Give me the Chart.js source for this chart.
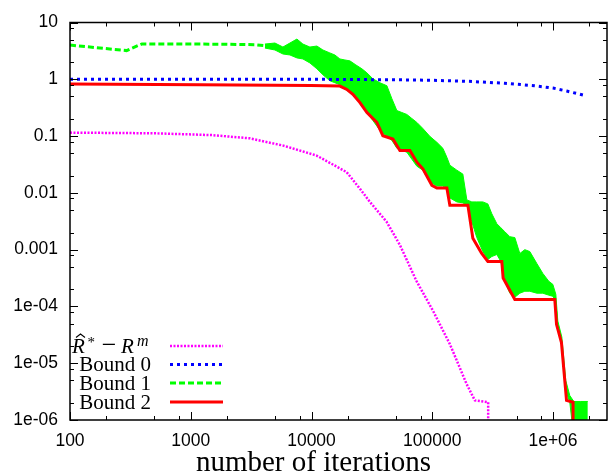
<!DOCTYPE html>
<html><head><meta charset="utf-8">
<script src="https://cdn.jsdelivr.net/npm/chart.js@4.4.1/dist/chart.umd.min.js"></script>
<style>html,body{margin:0;padding:0;background:#fff;overflow:hidden}</style>
</head><body>
<canvas id="c" width="608" height="475"></canvas>
<script>
// ---- tick labels ----
const xTickValues = [100, 1000, 10000, 100000, 1000000];
const xTickLabels = ['100', '1000', '10000', '100000', '1e+06'];
const yTickValues = [1e-6, 1e-5, 1e-4, 1e-3, 0.01, 0.1, 1, 10];
const yTickLabels = ['1e-06', '1e-05', '1e-04', '0.001', '0.01', '0.1', '1', '10'];
const minorMultiples = [2, 5, 8];

// ---- series: R^* - R^m (magenta) ----
const rDiffX = [100, 500, 1500, 3090, 5840, 11010, 19530, 25200, 30440, 41850, 53950, 74200, 101700, 139900, 192300, 225300, 290500, 290500];
const rDiffY = [0.115, 0.112, 0.104, 0.0912, 0.0679, 0.0454, 0.0232, 0.0118, 0.00693, 0.0031, 0.00121, 0.000277, 8.3e-5, 2.17e-5, 4.33e-6, 2.21e-6, 2.06e-6, 5e-7];

// ---- Bound 0 (blue) ----
const bound0X = [100, 1000, 10000, 50000, 100000, 200000, 400000, 700000, 1000000, 1300000, 1900000];
const bound0Y = [1.0, 1.0, 1.0, 0.98, 0.96, 0.92, 0.85, 0.77, 0.70, 0.62, 0.51];

// ---- Bound 1 (green): dashed start, then noisy band (upper / lower envelope) ----
const bound1X = [100, 294, 394, 2000, 3500, 4113];
const bound1Y = [4.0, 3.2, 4.2, 4.15, 4.05, 3.9];
const bound1BandX = [4113, 4977, 5798, 6627, 7572, 8490, 9700, 11085, 12430, 14200, 15620, 17180, 18900, 20790, 23310, 26140, 28740, 32240, 36830, 42100, 46300, 50930, 56020, 61620, 67780, 74560, 83600, 95500, 109200, 122400, 132100, 139900, 159800, 179200, 193400, 212700, 233900, 262400, 288600, 311500, 342600, 369800, 399000, 438900, 482900, 531100, 584200, 642700, 734300, 823300, 923100, 996200, 1055000, 1096000, 1183000, 1276000, 1377000, 1487000, 1699000, 1942000];
const bound1Upper = [4.17, 4.35, 3.70, 4.35, 5.11, 4.17, 3.70, 3.85, 3.28, 2.91, 2.68, 2.28, 2.19, 2.11, 1.79, 1.53, 1.30, 1.02, 0.869, 0.770, 0.456, 0.281, 0.260, 0.240, 0.204, 0.174, 0.136, 0.0989, 0.0776, 0.0610, 0.0424, 0.0307, 0.0251, 0.0214, 0.00751, 0.00693, 0.00693, 0.00693, 0.00639, 0.00428, 0.00286, 0.00243, 0.00207, 0.00169, 0.00163, 0.000855, 0.00100, 0.000926, 0.000571, 0.000382, 0.000277, 0.000245, 0.000164, 5.53e-5, 2.90e-5, 4.94e-6, 2.70e-6, 2.12e-6, 2.12e-6, 2.12e-6];
const bound1Lower = [3.55, 3.28, 2.79, 2.68, 2.38, 2.28, 1.94, 1.53, 1.20, 0.941, 0.869, 0.801, 0.682, 0.581, 0.515, 0.331, 0.260, 0.188, 0.126, 0.0989, 0.0841, 0.0610, 0.0562, 0.0519, 0.0391, 0.0295, 0.0251, 0.0155, 0.0132, 0.0132, 0.0122, 0.00814, 0.00693, 0.00666, 0.00614, 0.00310, 0.00163, 0.000926, 0.000671, 0.000757, 0.000821, 0.000619, 0.000277, 0.000171, 0.000145, 0.000171, 0.000185, 0.000185, 0.000171, 0.000171, 0.000158, 0.000151, 0.000124, 4.35e-5, 2.11e-5, 3.30e-6, 2.04e-6, 5e-7, 5e-7, 5e-7];

// ---- Bound 2 (red) ----
const bound2X = [100, 1191, 9890, 17180, 19620, 22020, 25180, 28780, 34760, 38990, 47210, 53950, 65300, 74600, 83600, 99300, 109200, 132100, 139900, 197300, 216900, 255900, 288600, 376700, 386300, 482900, 1035000, 1069000, 1175000, 1294000, 1466000, 1466000];
const bound2Y = [0.824, 0.801, 0.779, 0.760, 0.663, 0.542, 0.388, 0.260, 0.174, 0.1016, 0.0887, 0.0556, 0.0556, 0.0347, 0.0265, 0.0136, 0.0122, 0.0122, 0.00607, 0.00607, 0.00158, 0.000865, 0.000619, 0.000619, 0.000316, 0.000132, 0.000132, 4.85e-5, 2.31e-5, 2.21e-6, 2.06e-6, 5e-7];

const legendLabels = ['Bound 0', 'Bound 1', 'Bound 2'];
const xTitle = 'number of iterations';

const zip = (xs, ys) => xs.map((x, i) => ({x: x, y: ys[i]}));
function allTicks(decades, max) {
  const out = [];
  decades.forEach(d => { out.push(d); minorMultiples.forEach(m => { if (m * d <= max) out.push(m * d); }); });
  return out;
}
const X_MIN = 100, X_MAX = 2.8e6, Y_MIN = 1e-6, Y_MAX = 10;

const serif = "'Liberation Serif', 'Times New Roman', serif";
const sans = "'Liberation Sans', Arial, sans-serif";

const framePlugin = {
  id: 'frame',
  afterDraw(chart) {
    const {ctx, chartArea: a, scales: {x, y}} = chart;
    ctx.save();
    ctx.strokeStyle = '#000';
    ctx.lineWidth = 1;
    ctx.beginPath();
    x.ticks.forEach(t => {
      const px = Math.round(x.getPixelForValue(t.value)) + 0.5;
      const len = xTickValues.includes(t.value) ? 8 : 4;
      ctx.moveTo(px, a.bottom); ctx.lineTo(px, a.bottom - len);
      ctx.moveTo(px, a.top); ctx.lineTo(px, a.top + len);
    });
    y.ticks.forEach(t => {
      const py = Math.round(y.getPixelForValue(t.value)) + 0.5;
      const len = yTickValues.includes(t.value) ? 8 : 4;
      ctx.moveTo(a.left, py); ctx.lineTo(a.left + len, py);
      ctx.moveTo(a.right, py); ctx.lineTo(a.right - len, py);
    });
    ctx.stroke();
    ctx.lineWidth = 1.5;
    ctx.strokeRect(a.left, a.top, a.right - a.left, a.bottom - a.top);

    // x axis title
    ctx.fillStyle = '#000';
    ctx.font = '29px ' + serif;
    ctx.textAlign = 'center';
    ctx.textBaseline = 'alphabetic';
    ctx.fillText(xTitle, 313.5, 471);

    // legend
    const rightX = 151, s0 = 170, s1 = 223;
    const lineYs = [346, 364.5, 383, 402];
    const styles = [
      {c: '#ff00ff', w: 2.5, d: [2, 1.5]},
      {c: '#0000ff', w: 3, d: [3, 4]},
      {c: '#00ff00', w: 3, d: [6, 3]},
      {c: '#ff0000', w: 3, d: []}
    ];
    styles.forEach((s, i) => {
      ctx.beginPath();
      ctx.strokeStyle = s.c; ctx.lineWidth = s.w; ctx.setLineDash(s.d);
      ctx.moveTo(s0, lineYs[i]); ctx.lineTo(s1, lineYs[i]);
      ctx.stroke();
    });
    ctx.setLineDash([]);
    ctx.textAlign = 'right';
    ctx.font = '21px ' + serif;
    legendLabels.forEach((t, i) => ctx.fillText(t, rightX, lineYs[i + 1] + 6.5));
    // first label: R-hat^* - R^m
    const base = lineYs[0] + 6.5;
    ctx.textAlign = 'left';
    ctx.font = 'italic 21px ' + serif;
    ctx.fillText('R', 72, base);
    ctx.beginPath();
    ctx.strokeStyle = '#000'; ctx.lineWidth = 1.1;
    ctx.moveTo(76, base - 15); ctx.lineTo(80.5, base - 18.5); ctx.lineTo(85, base - 15);
    ctx.stroke();
    ctx.font = '15px ' + serif;
    ctx.fillText('*', 87.5, base - 6);
    ctx.font = '26px ' + serif;
    ctx.textAlign = 'center';
    ctx.fillText('\u2212', 109, base + 0.5);
    ctx.textAlign = 'left';
    ctx.font = 'italic 21px ' + serif;
    ctx.fillText('R', 121, base);
    ctx.font = 'italic 16px ' + serif;
    ctx.fillText('m', 137, base - 7);
    ctx.restore();
  }
};

const common = {pointRadius: 0, pointHoverRadius: 0, tension: 0, fill: false};

new Chart(document.getElementById('c'), {
  type: 'line',
  data: {
    datasets: [
      Object.assign({}, common, {label: 'Bound 2', data: zip(bound2X, bound2Y), borderColor: '#ff0000', borderWidth: 3, order: 0}),
      Object.assign({}, common, {label: 'Bound 0', data: zip(bound0X, bound0Y), borderColor: '#0000ff', borderWidth: 3, borderDash: [3, 4], order: 1}),
      Object.assign({}, common, {label: 'Bound 1', data: zip(bound1X, bound1Y), borderColor: '#00ff00', borderWidth: 3, borderDash: [6, 3], order: 2}),
      Object.assign({}, common, {label: 'Bound 1 (upper)', data: zip(bound1BandX, bound1Upper), borderColor: '#00ff00', backgroundColor: '#00ff00', borderWidth: 1, fill: 4, order: 3}),
      Object.assign({}, common, {label: 'Bound 1 (lower)', data: zip(bound1BandX, bound1Lower), borderColor: '#00ff00', borderWidth: 1, order: 4}),
      Object.assign({}, common, {label: 'R* - Rm', data: zip(rDiffX, rDiffY), borderColor: '#ff00ff', borderWidth: 2.5, borderDash: [2, 1.5], order: 5})
    ]
  },
  options: {
    responsive: false,
    animation: false,
    events: [],
    layout: {padding: {left: 0, right: 1, top: 19, bottom: 0}},
    plugins: {legend: {display: false}, tooltip: {enabled: false}},
    scales: {
      x: {
        type: 'logarithmic', min: X_MIN, max: X_MAX,
        afterBuildTicks: s => { s.ticks = allTicks(xTickValues, X_MAX).map(v => ({value: v})); },
        afterFit: s => { s.height = 55; },
        grid: {display: false, drawTicks: false},
        border: {display: false},
        ticks: {
          autoSkip: false, maxRotation: 0, minRotation: 0, padding: 11, color: '#000',
          font: {family: sans, size: 17.5},
          callback: v => { const i = xTickValues.indexOf(v); return i >= 0 ? xTickLabels[i] : ''; }
        }
      },
      y: {
        type: 'logarithmic', min: Y_MIN, max: Y_MAX,
        afterBuildTicks: s => { s.ticks = allTicks(yTickValues, Y_MAX).map(v => ({value: v})); },
        afterFit: s => { s.width = 70; },
        grid: {display: false, drawTicks: false},
        border: {display: false},
        ticks: {
          autoSkip: false, padding: 12, color: '#000',
          font: {family: sans, size: 17.5},
          callback: v => { const i = yTickValues.indexOf(v); return i >= 0 ? yTickLabels[i] : ''; }
        }
      }
    }
  },
  plugins: [framePlugin]
});
</script>
</body></html>
